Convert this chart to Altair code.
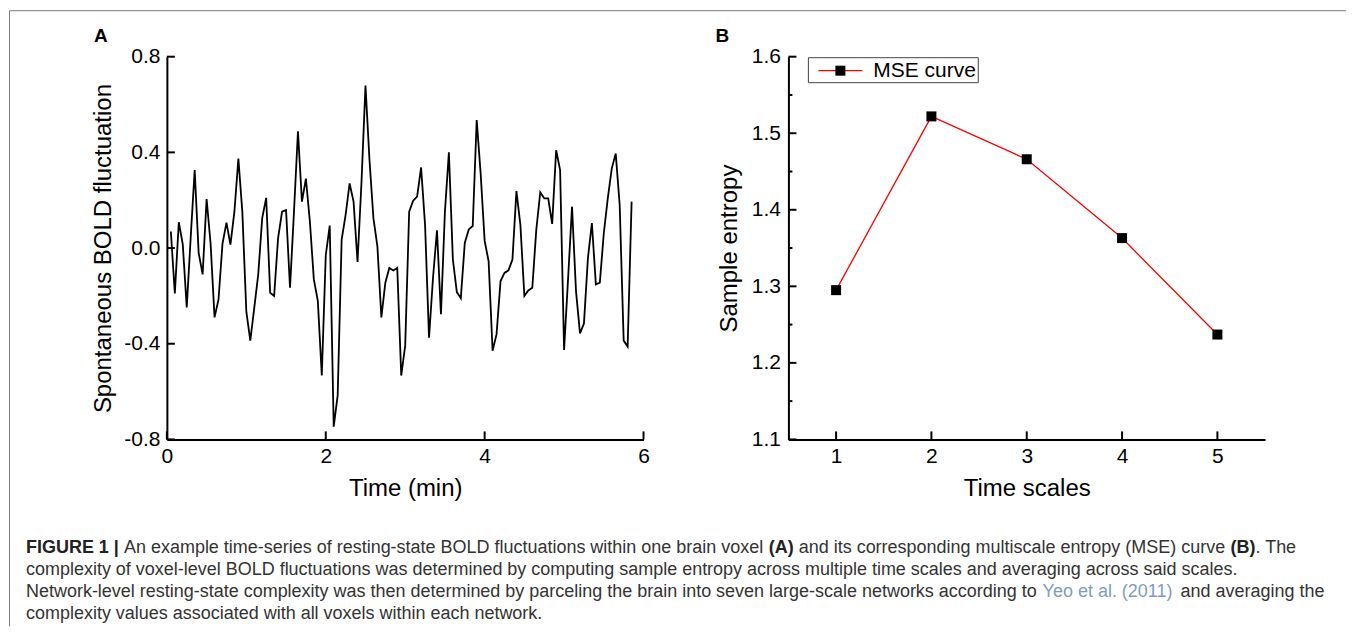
import altair as alt
import pandas as pd

FONT = "Liberation Sans"

# ---------------- Panel A data: BOLD time series (sampled every 3 s = 0.05 min)
TR_MIN = 0.05
bold_values = [
    0.069, -0.19, 0.108, 0.015, -0.248, 0.045, 0.326, -0.02, -0.11, 0.205,
    0.02, -0.29, -0.215, 0.018, 0.106, 0.014, 0.152, 0.374, 0.15, -0.265,
    -0.387, -0.25, -0.11, 0.125, 0.21, -0.187, -0.2, 0.042, 0.152, 0.159,
    -0.166, 0.152, 0.488, 0.194, 0.29, 0.111, -0.131, -0.221, -0.533, -0.03,
    0.094, -0.747, -0.616, 0.035, 0.139, 0.27, 0.194, -0.058, 0.277, 0.679,
    0.37, 0.125, 0.007, -0.29, -0.145, -0.083, -0.094, -0.083, -0.533, -0.408,
    0.152, 0.198, 0.215, 0.337, 0.097, -0.375, -0.124, 0.074, -0.277, 0.152,
    0.40, -0.048, -0.184, -0.21, 0.021, 0.078, 0.092, 0.535, 0.31, 0.03,
    -0.055, -0.429, -0.36, -0.138, -0.104, -0.093, -0.048, 0.238, 0.097, -0.2,
    -0.177, -0.166, 0.076, 0.233, 0.208, 0.208, 0.101, 0.409, 0.326, -0.426,
    -0.13, 0.173, -0.18, -0.357, -0.316, -0.042, 0.104, -0.152, -0.145, 0.062,
    0.208, 0.332, 0.395, 0.18, -0.387, -0.412, 0.194,
]
time_min = [round(TR_MIN * k, 2) for k in range(1, len(bold_values) + 1)]

a_y_ticks = [-0.8, -0.4, 0.0, 0.4, 0.8]
a_x_ticks = [0, 2, 4, 6]

# ---------------- Panel B data: MSE curve
time_scales = [1, 2, 3, 4, 5]
sample_entropy = [1.295, 1.522, 1.466, 1.363, 1.237]
legend_label = ["MSE curve"]

b_y_major = [1.1, 1.2, 1.3, 1.4, 1.5, 1.6]
b_y_minor = [1.15, 1.25, 1.35, 1.45, 1.55]
b_x_major = [1, 2, 3, 4, 5]

panel_letters = ["A", "B"]

# ---------------- Caption (text segments per line, with style)
cap_line = [1, 1, 1, 1, 1, 1, 2, 3, 3, 3, 4]
cap_style = ["bold", "normal", "bold", "normal", "bold", "normal",
             "normal", "normal", "link", "normal", "normal"]
cap_text = [
    "FIGURE 1 |",
    "An example time-series of resting-state BOLD fluctuations within one brain voxel",
    "(A)",
    "and its corresponding multiscale entropy (MSE) curve",
    "(B)",
    ". The",
    "complexity of voxel-level BOLD fluctuations was determined by computing sample entropy across multiple time scales and averaging across said scales.",
    "Network-level resting-state complexity was then determined by parceling the brain into seven large-scale networks according to",
    "Yeo et al. (2011)",
    "and averaging the",
    "complexity values associated with all voxels within each network.",
]
cap_space_before = [0, 1, 1, 1, 1, 0, 0, 0, 1, 1, 0]

CAP_FS = 18

# Arial / Liberation Sans advance widths (1/1000 em), used to chain caption segments
_REG = {" ": 278, "(": 333, ")": 333, ",": 278, "-": 333, ".": 278, "|": 260}
_REG.update({d: 556 for d in "0123456789"})
_REG.update(dict(zip("ABCDEFGHIJKLMNOPQRSTUVWXYZ",
                     [667, 667, 722, 722, 667, 611, 778, 722, 278, 500, 667, 556, 833,
                      722, 778, 667, 778, 722, 667, 611, 722, 667, 944, 667, 667, 611])))
_REG.update(dict(zip("abcdefghijklmnopqrstuvwxyz",
                     [556, 556, 500, 556, 556, 278, 556, 556, 222, 222, 500, 222, 833,
                      556, 556, 556, 556, 333, 500, 278, 556, 500, 722, 500, 500, 500])))
_BOLD = dict(_REG)
_BOLD.update({"|": 280, "A": 722, "B": 722, "R": 722, "U": 722, "G": 778})


def text_width(s, style):
    table = _BOLD if style == "bold" else _REG
    return sum(table.get(ch, 556) for ch in s) / 1000.0 * CAP_FS


W, H = 477, 383
A_LEFT, PLOT_TOP = 166, 56
CAP_LEFT_PAGE = 25
ROW_SPACING = 95
CAP_TOP = PLOT_TOP + H + ROW_SPACING
line_ypage = {1: 548, 2: 570, 3: 592, 4: 614}

# figure frame (page coordinates)
FRAME_LEFT, FRAME_TOP, FRAME_RIGHT, FRAME_BOTTOM = 8.5, 10, 1346, 626

cap_x, cap_y = [], []
cursor = {}
for ln, txt, sty, sp in zip(cap_line, cap_text, cap_style, cap_space_before):
    x0 = cursor.get(ln, CAP_LEFT_PAGE) + sp * _REG[" "] / 1000.0 * CAP_FS
    cap_x.append(x0 - A_LEFT)
    cap_y.append(line_ypage[ln] - CAP_TOP)
    cursor[ln] = x0 + text_width(txt, sty)

AX = dict(grid=False, ticks=False, domainColor="black", domainWidth=2,
          labelFontSize=21, titleFontSize=24, labelColor="black", labelFlush=False,
          titleColor="black", titleFontWeight="normal", labelFont=FONT, titleFont=FONT)


def panel_letter(letter):
    return alt.Chart(pd.DataFrame({"letter": [letter]})).mark_text(
        align="left", baseline="middle", fontSize=19, fontWeight="bold",
        font=FONT, color="black").encode(
        x=alt.value(-73), y=alt.value(-21), text="letter:N")


# ================= Panel A
dfA = pd.DataFrame({"time": time_min, "bold": bold_values})
xA = alt.Scale(domain=[0, 6], nice=False, zero=False)
yA = alt.Scale(domain=[-0.8, 0.8], nice=False, zero=False)
axXA = alt.Axis(title="Time (min)", values=a_x_ticks, format="d",
                labelPadding=6, titlePadding=10, **AX)
axYA = alt.Axis(title="Spontaneous BOLD fluctuation", values=a_y_ticks,
                labelExpr="(datum.value < 0 ? '-' : '') + format(abs(datum.value), '.1f')",
                labelPadding=7, titlePadding=8, **AX)

lineA = alt.Chart(dfA).mark_line(color="black", strokeWidth=1.8).encode(
    x=alt.X("time:Q", scale=xA, axis=axXA),
    y=alt.Y("bold:Q", scale=yA, axis=axYA),
)
tickYA = alt.Chart(pd.DataFrame({"v": a_y_ticks})).mark_rule(color="black", strokeWidth=2).encode(
    y=alt.Y("v:Q", scale=yA, axis=axYA), x=alt.value(0), x2=alt.value(8))
tickXA = alt.Chart(pd.DataFrame({"v": a_x_ticks})).mark_rule(color="black", strokeWidth=2).encode(
    x=alt.X("v:Q", scale=xA, axis=axXA), y=alt.value(H), y2=alt.value(H - 8))

frame_df = pd.DataFrame({"label": ["frame"]})
frameTop = alt.Chart(frame_df).mark_rule(color="#7a7a7a", strokeWidth=1).encode(
    x=alt.value(FRAME_LEFT - A_LEFT), x2=alt.value(FRAME_RIGHT - A_LEFT),
    y=alt.value(FRAME_TOP - PLOT_TOP))
frameLeft = alt.Chart(frame_df).mark_rule(color="#7a7a7a", strokeWidth=1).encode(
    x=alt.value(FRAME_LEFT - A_LEFT),
    y=alt.value(FRAME_TOP - PLOT_TOP), y2=alt.value(FRAME_BOTTOM - PLOT_TOP))

panelA = alt.layer(frameTop, frameLeft, lineA, tickYA, tickXA,
                   panel_letter(panel_letters[0])).properties(width=W, height=H)

# ================= Panel B
dfB = pd.DataFrame({"scale": time_scales, "entropy": sample_entropy})
xB = alt.Scale(domain=[0.5, 5.5], nice=False, zero=False)
yB = alt.Scale(domain=[1.1, 1.6], nice=False, zero=False)
axXB = alt.Axis(title="Time scales", values=b_x_major, format="d",
                labelPadding=6, titlePadding=10, **AX)
axYB = alt.Axis(title="Sample entropy", values=b_y_major, format=".1f",
                labelPadding=8, titlePadding=10, **AX)

lineB = alt.Chart(dfB).mark_line(color="#ff0000", strokeWidth=1.3).encode(
    x=alt.X("scale:Q", scale=xB, axis=axXB),
    y=alt.Y("entropy:Q", scale=yB, axis=axYB),
)
ptsB = alt.Chart(dfB).mark_square(size=100, color="black", opacity=1).encode(
    x=alt.X("scale:Q", scale=xB, axis=axXB), y=alt.Y("entropy:Q", scale=yB, axis=axYB))
tickYB = alt.Chart(pd.DataFrame({"v": b_y_major})).mark_rule(color="black", strokeWidth=2).encode(
    y=alt.Y("v:Q", scale=yB, axis=axYB), x=alt.value(0), x2=alt.value(8))
tickYBm = alt.Chart(pd.DataFrame({"v": b_y_minor})).mark_rule(color="black", strokeWidth=2).encode(
    y=alt.Y("v:Q", scale=yB, axis=axYB), x=alt.value(0), x2=alt.value(4))
tickXB = alt.Chart(pd.DataFrame({"v": b_x_major})).mark_rule(color="black", strokeWidth=2).encode(
    x=alt.X("v:Q", scale=xB, axis=axXB), y=alt.value(H), y2=alt.value(H - 8))

legend_df = pd.DataFrame({"label": legend_label})
legBox = alt.Chart(legend_df).mark_rect(fill="white", stroke="#444", strokeWidth=1).encode(
    x=alt.value(20), x2=alt.value(190), y=alt.value(1), y2=alt.value(26))
legLine = alt.Chart(legend_df).mark_rule(color="#ff0000", strokeWidth=1.3).encode(
    x=alt.value(30), x2=alt.value(74), y=alt.value(14))
legSym = alt.Chart(legend_df).mark_square(size=100, color="black", opacity=1).encode(
    x=alt.value(52), y=alt.value(14))
legText = alt.Chart(legend_df).mark_text(align="left", baseline="middle", fontSize=21,
                                          font=FONT, color="black").encode(
    x=alt.value(85), y=alt.value(14), text="label:N")

panelB = alt.layer(lineB, ptsB, tickYB, tickYBm, tickXB, legBox, legLine, legSym, legText,
                   panel_letter(panel_letters[1])).properties(width=W, height=H)

# ================= Caption
capdf = pd.DataFrame({"text": cap_text, "style": cap_style, "x": cap_x, "y": cap_y})
cap_layers = []
for style, weight, color in [("normal", "normal", "#333333"),
                             ("bold", "bold", "#222222"),
                             ("link", "normal", "#7f9cc0")]:
    cap_layers.append(
        alt.Chart(capdf).transform_filter(alt.datum.style == style)
        .mark_text(align="left", baseline="middle", fontSize=CAP_FS, font=FONT,
                   fontWeight=weight, color=color)
        .encode(x=alt.X("x:Q", scale=None, axis=None),
                y=alt.Y("y:Q", scale=None, axis=None),
                text="text:N")
    )
caption = alt.layer(*cap_layers).properties(width=W, height=90)

chart = alt.concat(panelA, panelB, caption, columns=2,
                   spacing={"row": ROW_SPACING, "column": 145}, bounds="flush").properties(
    padding={"left": 0, "top": 1.5, "right": 0, "bottom": 0}
).configure(font=FONT, view=alt.ViewConfig(stroke="transparent"))

chart.save("out.html", embed_options={"renderer": "svg", "actions": False})
